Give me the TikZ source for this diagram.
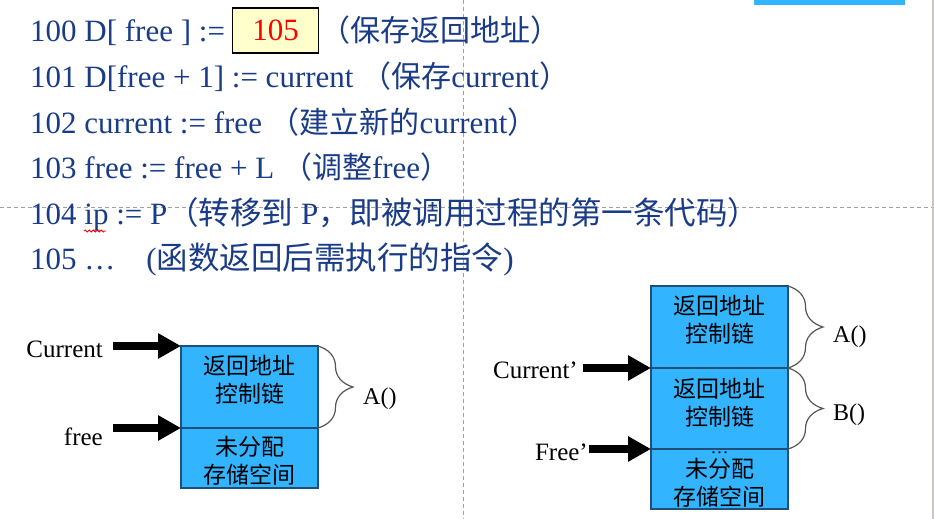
\documentclass[tikz,border=0pt]{standalone}
\usepackage{fontspec}
\setmainfont{Liberation Serif}
\newfontfamily\cjk{Noto Sans CJK SC}
\usetikzlibrary{arrows.meta,decorations.pathreplacing,decorations.pathmorphing}

\definecolor{codeblue}{RGB}{26,60,136}
\definecolor{cellblue}{RGB}{50,180,255}
\definecolor{celledge}{RGB}{31,78,121}
\definecolor{boxyellow}{RGB}{255,255,204}
\definecolor{guidegray}{RGB}{160,160,160}
\definecolor{bracegray}{RGB}{85,85,85}
\definecolor{edgegray}{RGB}{205,198,198}

% Chinese run inside a code line
\newcommand{\zhtxt}[1]{{\cjk\fontsize{30}{30}\selectfont #1}}
\newcommand{\zhbig}[1]{{\cjk\fontsize{31.5}{31.5}\selectfont #1}}

\begin{document}
\begin{tikzpicture}[x=1pt,y=-1pt,
  codeline/.style={anchor=base west, inner sep=0pt, text=codeblue,
    font=\fontsize{31}{31}\selectfont},
  cell/.style={draw=celledge, line width=2.2pt, fill=cellblue,
    minimum width=137pt, inner sep=0pt, outer sep=0pt},
  celltext/.style={align=center, inner sep=0pt,
    font=\cjk\fontsize{23}{28}\selectfont},
  ptrlabel/.style={anchor=base east, inner sep=0pt,
    font=\fontsize{25}{25}\selectfont},
  framelabel/.style={anchor=base west, inner sep=0pt,
    font=\fontsize{24}{24}\selectfont},
  ptr/.style={line width=8pt, -{Triangle[length=23pt,width=24pt]}},
  curly/.style={decorate, decoration={brace, amplitude=35pt},
    draw=bracegray, line width=1.2pt},
  guide/.style={draw=guidegray, line width=0.9pt, dash pattern=on 4pt off 3pt}
]
\useasboundingbox (0,0) rectangle (934,519);
\fill[white] (0,0) rectangle (934,519);

% guide lines and window edge
\draw[guide] (0,207) -- (932,207);
\draw[guide] (463,0) -- (463,519);
\fill[cellblue] (754,0) rectangle (905,5);
\draw[edgegray, line width=2pt] (932.5,0) -- (932.5,519);

% calling sequence
\node[codeline] (l100) at (30,42) {100 D[ free ] :=};
\node[draw=black, line width=1.2pt, fill=boxyellow, minimum width=86pt,
  minimum height=45pt, inner sep=0pt, text=red,
  font=\fontsize{31}{31}\selectfont] (ret) at (275.5,30.5) {105};
\node[codeline] (l100c) at (320,42) {\zhtxt{（保存返回地址）}};
\node[codeline] (l101) at (30,87.5) {101 D[free + 1] := current \zhtxt{（保存}current\zhtxt{）}};
\node[codeline] (l102) at (30,133) {102 current := free \zhtxt{（建立新的}current\zhtxt{）}};
\node[codeline] (l103) at (30,178.5) {103 free := free + L \zhtxt{（调整}free\zhtxt{）}};
\node[codeline] (l104) at (30,224) {104 ip := P\zhbig{（转移到} P\zhbig{，即被调用过程的第一条代码）}};
\node[codeline] (l105) at (30,269.5) {105 …\hspace{31pt}(\zhbig{函数返回后需执行的指令})};
\draw[red, line width=0.8pt, decorate,
  decoration={snake, segment length=4pt, amplitude=1pt}] (84,231) -- (106,231);

% stack before the call
\node[cell, minimum height=82pt] (La) at (249.5,387) {};
\node[cell, minimum height=60pt] (Lb) at (249.5,458) {};
\node[celltext] (Lat) at (249.5,380) {返回地址\\控制链};
\node[celltext] (Lbt) at (249.5,461) {未分配\\存储空间};

\node[ptrlabel] (Lcur) at (103,357) {Current};
\node[ptrlabel] (Lfree) at (103,445) {free};
\coordinate (Lcurs) at (113,346);
\coordinate (Lfrees) at (113,428);
\draw[ptr] (Lcurs) -- (La.north west);
\draw[ptr] (Lfrees) -- (La.south west);

\draw[curly] (La.north east) -- (La.south east);
\node[framelabel] (LA) at (363,404) {A()};

% stack after the call
\node[cell, minimum height=82pt] (Ra) at (719.5,327) {};
\node[cell, minimum height=81pt] (Rb) at (719.5,408.5) {};
\node[cell, minimum height=60pt] (Rc) at (719.5,479) {};
\node[celltext] (Rat) at (719.5,320) {返回地址\\控制链};
\node[celltext] (Rbt) at (719.5,403) {返回地址\\控制链};
\node[celltext] (Rct) at (719.5,483) {未分配\\存储空间};
\node[anchor=base, inner sep=0pt, font=\fontsize{18}{18}\selectfont] (dots) at (719.5,453) {…};

\node[ptrlabel] (Rcur) at (578,378) {Current’};
\node[ptrlabel] (Rfree) at (588,460) {Free’};
\coordinate (Rcurs) at (583,368);
\coordinate (Rfrees) at (589,449);
\draw[ptr] (Rcurs) -- (Ra.south west);
\draw[ptr] (Rfrees) -- (Rb.south west);

\draw[curly] (Ra.north east) -- (Ra.south east);
\draw[curly] (Rb.north east) -- (Rb.south east);
\node[framelabel] (RA) at (833,342) {A()};
\node[framelabel] (RB) at (833,420) {B()};
\end{tikzpicture}
\end{document}
